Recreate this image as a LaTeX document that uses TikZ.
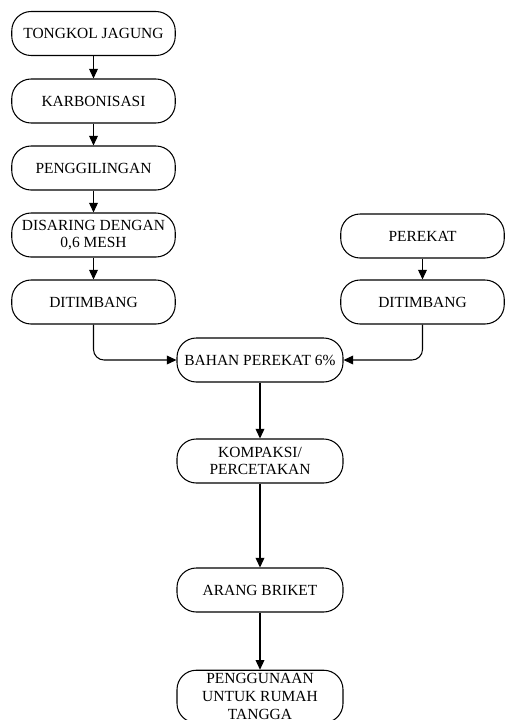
\documentclass[tikz,border=0pt]{standalone}
\usepackage{fontspec}
\setmainfont{Liberation Serif}
\usetikzlibrary{arrows.meta, positioning, calc}

\begin{document}
\begin{tikzpicture}[>={Triangle[length=5.5pt, width=5pt]}, line width=0.6pt,
      proc/.style={rounded corners=11pt, draw, align=center,
                   font=\fontsize{8.8}{10}\selectfont,
                   minimum width=3.27cm, minimum height=0.88cm, inner sep=2pt}]
    \useasboundingbox (0,0) rectangle (10.1,-14.4);
    \node[proc] (tongkol) at (1.87,-0.67) {TONGKOL JAGUNG};
    \node[proc] (karbon) at (1.87,-2.02) {KARBONISASI};
    \node[proc] (giling) at (1.87,-3.36) {PENGGILINGAN};
    \node[proc] (saring) at (1.87,-4.70) {DISARING DENGAN\\0,6 MESH};
    \node[proc] (timbL) at (1.87,-6.04) {DITIMBANG};
    \node[proc] (perekat) at (8.45,-4.72) {PEREKAT};
    \node[proc] (timbR) at (8.45,-6.04) {DITIMBANG};
    \node[proc, minimum width=3.32cm] (bahan) at (5.20,-7.20) {BAHAN PEREKAT 6\%};
    \node[proc, minimum width=3.32cm] (kompaksi) at (5.20,-9.22) {KOMPAKSI/\\PERCETAKAN};
    \node[proc, minimum width=3.32cm] (arang) at (5.20,-11.80) {ARANG BRIKET};
    \node[proc, minimum width=3.32cm] (guna) at (5.20,-13.93) {PENGGUNAAN\\UNTUK RUMAH\\TANGGA};
    \draw[->] (tongkol)--(karbon); \draw[->] (karbon)--(giling);
    \draw[->] (giling)--(saring); \draw[->] (saring)--(timbL);
    \draw[->] (perekat)--(timbR);
    \draw[->, rounded corners=6pt] (timbL.south) |- (bahan.west);
    \draw[->, rounded corners=6pt] (timbR.south) |- (bahan.east);
    \draw[->] (bahan)--(kompaksi); \draw[->] (kompaksi)--(arang);
    \draw[->] (arang)--(guna);
  \end{tikzpicture}
\end{document}
